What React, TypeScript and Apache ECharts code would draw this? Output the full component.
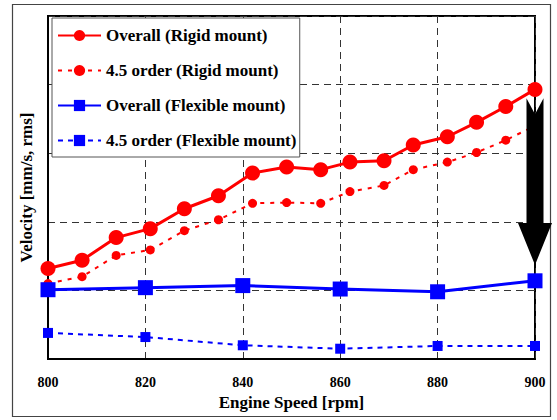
import React, { useEffect, useRef } from "react";
import * as echarts from "echarts";

const rpmRigid = [800, 807, 814, 821, 828, 835, 842, 849, 856, 862, 869, 875, 882, 888, 894, 900];
const overallRigid = [1.32, 1.44, 1.77, 1.9, 2.19, 2.38, 2.71, 2.8, 2.76, 2.87, 2.89, 3.12, 3.24, 3.45, 3.68, 3.93];
const orderRigid = [1.1, 1.2, 1.51, 1.59, 1.87, 2.03, 2.27, 2.28, 2.27, 2.44, 2.53, 2.76, 2.87, 3.01, 3.19, 3.4];
const rpmFlex = [800, 820, 840, 860, 880, 900];
const overallFlex = [1.01, 1.04, 1.07, 1.02, 0.98, 1.14];
const orderFlex = [0.38, 0.32, 0.2, 0.15, 0.19, 0.19];
const arrow = [900, 3.8, 1.37];
const xTicks = [800, 820, 840, 860, 880, 900];
const names = [
  "Overall (Rigid mount)",
  "4.5 order (Rigid mount)",
  "Overall (Flexible mount)",
  "4.5 order (Flexible mount)",
];

const FONT = "'Times New Roman', 'Liberation Serif', serif";
const zip = (xs: number[], ys: number[]) => xs.map((x, i) => [x, ys[i]]);

export default function App() {
  const ref = useRef<HTMLDivElement>(null);
  useEffect(() => {
    const chart = echarts.init(ref.current!, null, { renderer: "svg" });
    chart.setOption({
      animation: false,
      backgroundColor: "#fff",
      grid: {
        left: 48,
        top: 16,
        right: 22,
        bottom: 61,
        show: true,
        borderColor: "#000",
        borderWidth: 2,
      },
      graphic: [
        {
          type: "rect",
          shape: { x: 12.5, y: 4.5, width: 538, height: 412 },
          style: { fill: "none", stroke: "#444", lineWidth: 1.2 },
          silent: true,
        },
      ],
      legend: {
        orient: "vertical",
        left: 52,
        top: 18,
        padding: [9, 3, 8, 5],
        itemWidth: 43,
        itemHeight: 14,
        itemGap: 18,
        itemTextGap: 4,
        backgroundColor: "#fff",
        borderColor: "#555",
        borderWidth: 1,
        borderRadius: 0,
        data: names,
        textStyle: {
          fontFamily: FONT,
          fontWeight: "bold",
          fontSize: 17,
          color: "#000",
          lineHeight: 17,
        },
      },
      xAxis: {
        type: "value",
        min: 800,
        max: 900,
        interval: 20,
        name: "Engine Speed [rpm]",
        nameLocation: "middle",
        nameGap: 34,
        nameTextStyle: { fontFamily: FONT, fontWeight: "bold", fontSize: 17, color: "#000" },
        axisLine: { lineStyle: { color: "#000", width: 2 } },
        axisTick: { show: false },
        axisLabel: {
          fontFamily: FONT,
          fontWeight: "bold",
          fontSize: 14,
          color: "#000",
          margin: 16,
          formatter: (v: number) => (xTicks.includes(v) ? String(v) : ""),
        },
        splitLine: { show: true, lineStyle: { color: "#333", type: [7, 5], width: 1 } },
      },
      yAxis: {
        type: "value",
        min: 0,
        max: 5,
        interval: 1,
        name: "Velocity [mm/s, rms]",
        nameLocation: "middle",
        nameGap: 13,
        nameTextStyle: { fontFamily: FONT, fontWeight: "bold", fontSize: 17, color: "#000" },
        axisLine: { show: true, lineStyle: { color: "#000", width: 2 } },
        axisTick: { show: false },
        axisLabel: { show: false },
        splitLine: { show: true, lineStyle: { color: "#333", type: [7, 5], width: 1 } },
      },
      series: [
        {
          name: names[0],
          type: "line",
          data: zip(rpmRigid, overallRigid),
          symbol: "circle",
          symbolSize: 15,
          itemStyle: { color: "#ff0000" },
          lineStyle: { color: "#ff0000", width: 3 },
          z: 3,
        },
        {
          name: names[1],
          type: "line",
          data: zip(rpmRigid, orderRigid),
          symbol: "circle",
          symbolSize: 9,
          itemStyle: { color: "#ff0000" },
          lineStyle: { color: "#ff0000", width: 2, type: [4, 6] },
          z: 3,
        },
        {
          name: names[2],
          type: "line",
          data: zip(rpmFlex, overallFlex),
          symbol: "rect",
          symbolSize: 15,
          itemStyle: { color: "#0000ff" },
          lineStyle: { color: "#0000ff", width: 3 },
          z: 4,
        },
        {
          name: names[3],
          type: "line",
          data: zip(rpmFlex, orderFlex),
          symbol: "rect",
          symbolSize: 10,
          itemStyle: { color: "#0000ff" },
          lineStyle: { color: "#0000ff", width: 2, type: [5, 5] },
          z: 4,
        },
        {
          type: "custom",
          z: 5,
          silent: true,
          data: [arrow],
          renderItem: (params: any, api: any) => {
            const top = api.coord([api.value(0), api.value(1)]);
            const tip = api.coord([api.value(0), api.value(2)]);
            const cx = top[0];
            const t = top[1];
            const b = tip[1];
            const hb = b - 42;
            const sw = 8.5;
            const hw = 17;
            return {
              type: "polygon",
              shape: {
                points: [
                  [cx - sw, t],
                  [cx, t + 16],
                  [cx + sw, t],
                  [cx + sw, hb],
                  [cx + hw, hb],
                  [cx, b],
                  [cx - hw, hb],
                  [cx - sw, hb],
                ],
              },
              style: { fill: "#000" },
            };
          },
        },
      ],
    });
    return () => chart.dispose();
  }, []);
  return (
    <div
      ref={ref}
      style={{ position: "fixed", left: 0, top: 0, width: 557, height: 420 }}
    />
  );
}
